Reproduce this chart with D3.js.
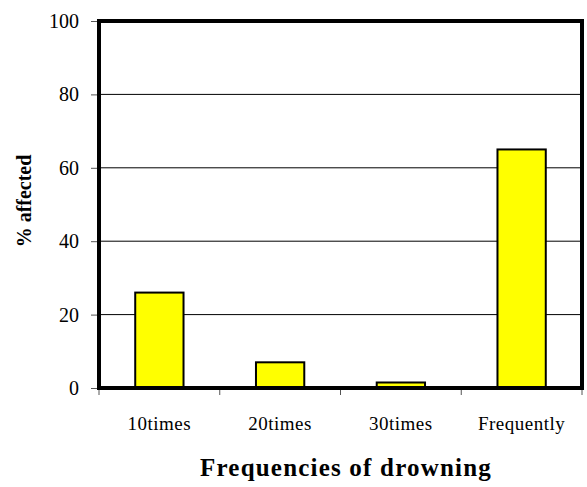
<!DOCTYPE html>
<html>
<head>
<meta charset="utf-8">
<script src="https://cdn.jsdelivr.net/npm/d3@7"></script>
<style>
  body { margin: 0; background: #fff; }
</style>
</head>
<body>
<div id="chart"></div>
<script>
// data
var categories = ['10times', '20times', '30times', 'Frequently'];
var values = [26, 7, 1.5, 65];
var yTicks = [0, 20, 40, 60, 80, 100];

var serif = "'Liberation Serif', 'Times New Roman', serif";

var margin = { top: 21, right: 5, bottom: 99, left: 99 },
    width = 587,
    height = 487,
    plotW = width - margin.left - margin.right,
    plotH = height - margin.top - margin.bottom;

var svg = d3.select('#chart')
    .append('svg')
    .attr('width', width)
    .attr('height', height)
    .attr('font-family', serif);

var g = svg.append('g')
    .attr('transform', 'translate(' + margin.left + ',' + margin.top + ')');

var x = d3.scaleBand()
    .domain(categories)
    .range([0, plotW])
    .paddingInner(0.6)
    .paddingOuter(0.3);

var y = d3.scaleLinear()
    .domain([0, 100])
    .range([plotH, 0]);

// gridlines
g.selectAll('line.grid')
    .data(yTicks.filter(function(d) { return d > 0 && d < 100; }))
    .enter()
    .append('line')
    .attr('class', 'grid')
    .attr('x1', 0)
    .attr('x2', plotW)
    .attr('y1', function(d) { return y(d); })
    .attr('y2', function(d) { return y(d); })
    .attr('stroke', '#000')
    .attr('stroke-width', 1);

// bars
g.selectAll('rect.bar')
    .data(values)
    .enter()
    .append('rect')
    .attr('class', 'bar')
    .attr('x', function(d, i) { return x(categories[i]); })
    .attr('width', x.bandwidth())
    .attr('y', function(d) { return y(d); })
    .attr('height', function(d) { return plotH - y(d); })
    .attr('fill', '#ffff00')
    .attr('stroke', '#000')
    .attr('stroke-width', 2);

// y axis ticks + labels
var yAxis = d3.axisLeft(y)
    .tickValues(yTicks)
    .tickSize(8)
    .tickPadding(12);

g.append('g')
    .call(yAxis)
    .attr('font-family', serif)
    .attr('font-size', 20)
    .call(function(s) {
        s.select('.domain').remove();
        s.selectAll('.tick line').attr('stroke', '#555');
        s.selectAll('.tick text').attr('fill', '#000');
    });

// x axis: ticks at category boundaries
var step = plotW / categories.length;
var bounds = d3.range(categories.length + 1).map(function(i) { return i * step; });

g.selectAll('line.xtick')
    .data(bounds)
    .enter()
    .append('line')
    .attr('class', 'xtick')
    .attr('x1', function(d) { return d; })
    .attr('x2', function(d) { return d; })
    .attr('y1', plotH)
    .attr('y2', plotH + 7)
    .attr('stroke', '#555')
    .attr('stroke-width', 1);

g.selectAll('text.xlabel')
    .data(categories)
    .enter()
    .append('text')
    .attr('class', 'xlabel')
    .attr('x', function(d) { return x(d) + x.bandwidth() / 2; })
    .attr('y', plotH + 42)
    .attr('text-anchor', 'middle')
    .attr('font-size', 19)
    .attr('letter-spacing', 0.5)
    .text(function(d) { return d; });

// plot frame (thick)
g.append('rect')
    .attr('x', 0)
    .attr('y', 0)
    .attr('width', plotW)
    .attr('height', plotH)
    .attr('fill', 'none')
    .attr('stroke', '#000')
    .attr('stroke-width', 4);

// axis titles
svg.append('text')
    .attr('transform', 'translate(31,' + 201 + ') rotate(-90)')
    .attr('text-anchor', 'middle')
    .attr('font-size', 20)
    .attr('font-weight', 'bold')
    .text('% affected');

svg.append('text')
    .attr('x', 346)
    .attr('y', 476)
    .attr('text-anchor', 'middle')
    .attr('font-size', 25)
    .attr('font-weight', 'bold')
    .attr('letter-spacing', 1.2)
    .text('Frequencies of drowning');
</script>
</body>
</html>
